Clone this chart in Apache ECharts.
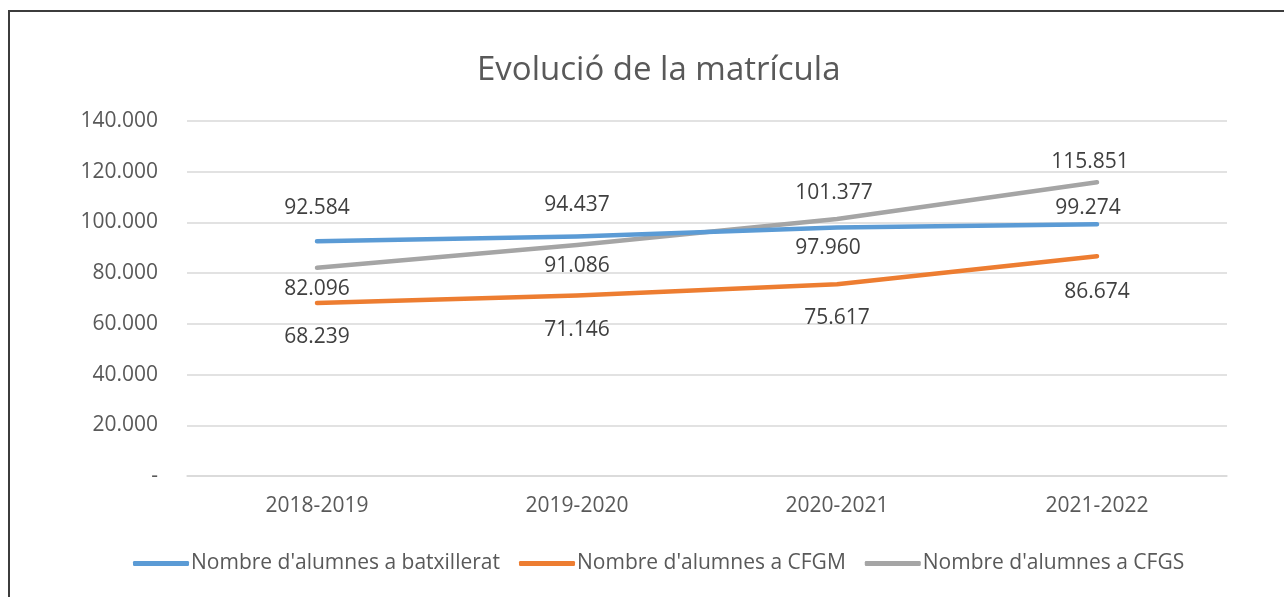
<!DOCTYPE html>
<html>
<head>
<meta charset="utf-8">
<script src="https://cdn.jsdelivr.net/npm/echarts@6/dist/echarts.min.js"></script>
<style>
html,body{margin:0;padding:0;background:#fff;}
#chart{width:1284px;height:597px;}
#frame{position:absolute;left:8px;top:10px;width:1300px;height:700px;border-top:2px solid #3c3c3c;border-left:2px solid #3c3c3c;pointer-events:none;}
</style>
</head>
<body>
<div id="chart"></div>
<div id="frame"></div>
<script>
const title = "Evolució de la matrícula";
const categories = ["2018-2019", "2019-2020", "2020-2021", "2021-2022"];
const seriesNames = ["Nombre d'alumnes a batxillerat", "Nombre d'alumnes a CFGM", "Nombre d'alumnes a CFGS"];
const batxillerat = [92584, 94437, 97960, 99274];
const cfgm = [68239, 71146, 75617, 86674];
const cfgs = [82096, 91086, 101377, 115851];
const yTicks = [0, 20000, 40000, 60000, 80000, 100000, 120000, 140000];

// label offsets (style only): [dx, dy] relative to the point
const labelOffsets = [
  [[0,-33],[0,-32],[-9,20],[-9,-16]],
  [[0,34],[0,34],[0,34],[0,36]],
  [[0,21],[0,21],[-3,-26],[-7,-20]]
];
const colors = ['#5B9BD5', '#ED7D31', '#A5A5A5'];
const fontFam = '"Open Sans", "Noto Sans", sans-serif';

function fmt(v){
  if (v === 0) return '-';
  return String(Math.round(v)).replace(/\B(?=(\d{3})+(?!\d))/g, '.');
}

const allData = [batxillerat, cfgm, cfgs];
const chart = echarts.init(document.getElementById('chart'));
chart.setOption({
  animation: false,
  title: {
    text: title, left: 472, top: 49,
    textStyle: {fontFamily: fontFam, fontSize: 33, fontWeight: 'normal', color: '#595959'}
  },
  legend: {
    left: 128, top: 548,
    itemWidth: 56, itemHeight: 5, itemGap: 19,
    icon: 'roundRect',
    textStyle: {fontFamily: fontFam, fontSize: 21, color: '#595959', padding: [0,0,0,-3]},
    data: seriesNames
  },
  grid: {left: 187, right: 57, top: 121, bottom: 121},
  xAxis: {
    type: 'category', data: categories, boundaryGap: true,
    axisLine: {show: true, lineStyle: {color: '#d9d9d9', width: 1.5}},
    axisTick: {show: false},
    axisLabel: {fontFamily: fontFam, fontSize: 21, color: '#595959', margin: 20}
  },
  yAxis: {
    type: 'value', min: 0, max: 140000, interval: 20000,
    axisLine: {show: false}, axisTick: {show: false},
    splitLine: {lineStyle: {color: '#d9d9d9', width: 1.5}},
    axisLabel: {fontFamily: fontFam, fontSize: 21, color: '#595959', margin: 29,
      formatter: v => yTicks.indexOf(v) >= 0 ? fmt(v) : ''}
  },
  series: allData.map((d, si) => ({
    name: seriesNames[si], type: 'line',
    data: d.map((v, i) => ({
      value: v,
      label: {offset: labelOffsets[si][i]}
    })),
    color: colors[si],
    symbol: 'circle', symbolSize: 0.1,
    lineStyle: {width: 4.5, color: colors[si], cap: 'round', join: 'round'},
    label: {show: true, position: 'inside', fontFamily: fontFam, fontSize: 21, color: '#404040',
      formatter: p => fmt(p.value)},
    z: 3 + (2 - si)
  }))
});
</script>
</body>
</html>
